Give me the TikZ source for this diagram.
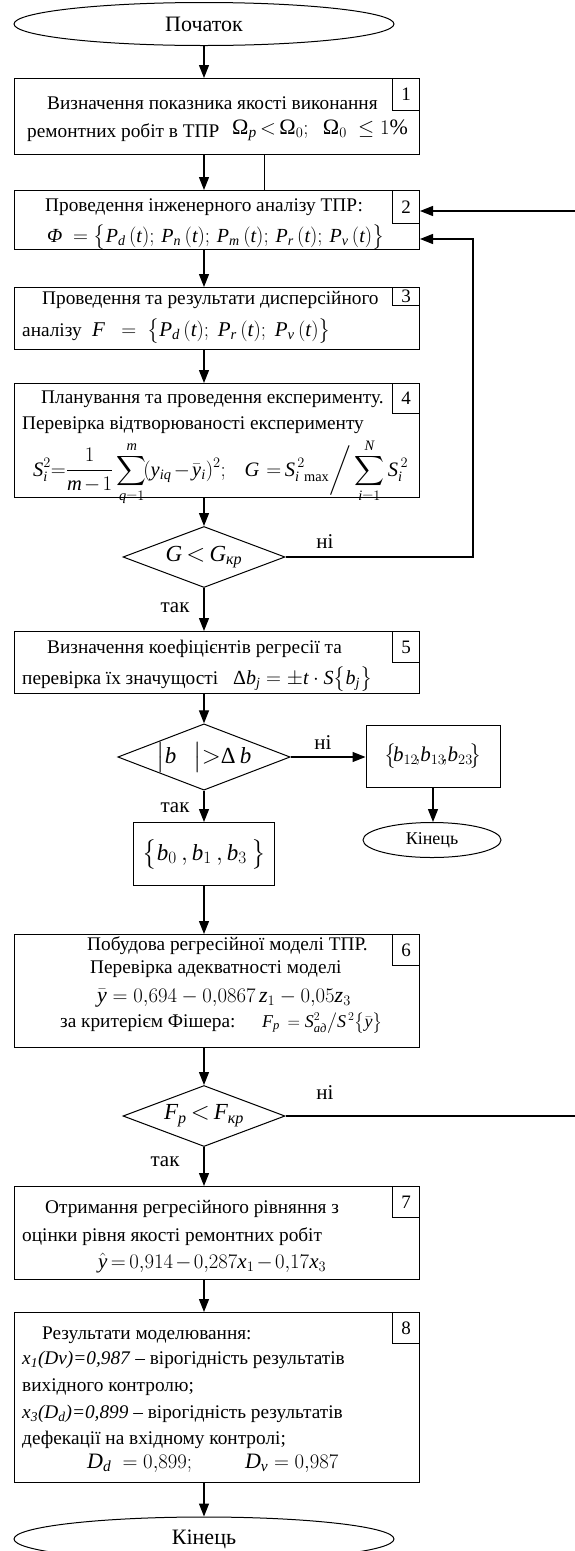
\documentclass[tikz,border=0pt]{standalone}
\usepackage{amsmath}
\usepackage{fontspec}
\setmainfont{Liberation Serif}
\newfontfamily\tfam[NFSSFamily=tms]{Liberation Serif}
\DeclareSymbolFont{tletters}{TU}{tms}{m}{it}
\DeclareSymbolFont{trm}{TU}{tms}{m}{n}
\makeatletter
\def\tsym#1{\DeclareMathSymbol{#1}{\mathalpha}{tletters}{`#1}}
\def\tdig#1{\DeclareMathSymbol{#1}{\mathalpha}{trm}{`#1}}
\@tfor\x:=abcdefghijklmnopqrstuvwxyzABCDEFGHIJKLMNOPQRSTUVWXYZ\do{\expandafter\tsym\x}
\@tfor\x:=0123456789\do{\expandafter\tdig\x}
\makeatother
\usetikzlibrary{arrows.meta,shapes.geometric}
\newcommand\fsz[1]{\fontsize{#1}{#1}\selectfont}
\newcommand\tightmath{\thickmuskip=3mu\medmuskip=2mu}
\tikzset{
  box/.style={draw, line width=1pt, inner sep=0pt, anchor=north west, minimum width=405pt},
  num/.style={draw, line width=1pt, inner sep=0pt, anchor=north east, minimum width=27pt, font=\fsz{19}},
  txt/.style={inner sep=0pt, anchor=base west, font=\fsz{19.3}},
  dia/.style={draw, line width=1pt, shape=diamond, inner sep=0pt, minimum width=162pt, minimum height=61pt, aspect=2.6, font=\fsz{23}},
  ell/.style={draw, line width=1pt, shape=ellipse, inner sep=0pt},
  lbl/.style={inner sep=0pt, font=\fsz{21}},
  arr/.style={line width=1.2pt, -{Triangle[length=13pt,width=10pt]}},
  thinl/.style={line width=0.6pt},
}
\begin{document}
\begin{tikzpicture}[x=1pt,y=-1pt]
\useasboundingbox (0,0) rectangle (574,1551);
% terminals
\node[ell, minimum width=380pt, minimum height=43pt, font=\fsz{22}] (start) at (204,24) {Початок};
\node[ell, minimum width=380pt, minimum height=44pt, font=\fsz{22}] (end) at (204,1539) {Кінець};
\node[ell, minimum width=138pt, minimum height=35pt, font=\fsz{18}] (send) at (432,840) {Кінець};
% boxes
\node[box, minimum height=76pt] (b1) at (14,78) {};
\node[num, minimum height=32pt] (n1) at (b1.north east) {1};
\node[box, minimum height=59pt] (b2) at (14,190) {};
\node[num, minimum height=33pt] (n2) at (b2.north east) {2};
\node[box, minimum height=62pt] (b3) at (14,287) {};
\node[num, minimum height=18pt] (n3) at (b3.north east) {3};
\node[box, minimum height=114pt] (b4) at (14,383) {};
\node[num, minimum height=30pt] (n4) at (b4.north east) {4};
\node[box, minimum height=62pt] (b5) at (14,631) {};
\node[num, minimum height=31pt] (n5) at (b5.north east) {5};
\node[box, minimum height=113pt] (b6) at (14,934) {};
\node[num, minimum height=31pt] (n6) at (b6.north east) {6};
\node[box, minimum height=93pt] (b7) at (14,1186) {};
\node[num, minimum height=31pt] (n7) at (b7.north east) {7};
\node[box, minimum height=170pt] (b8) at (14,1312) {};
\node[num, minimum height=31pt] (n8) at (b8.north east) {8};
\node[draw, line width=1pt, inner sep=0pt, minimum width=141pt, minimum height=63pt, font=\fsz{23}] (bb0) at (204,854) {$\bigl\{b_0\,, b_1\,, b_3\,\bigr\}$};
\node[draw, line width=1pt, inner sep=0pt, minimum width=134pt, minimum height=62pt, font=\fsz{21}] (bb12) at (433,756) {$\bigl\{\!b_{12}\!,\!b_{13}\!,\!b_{23}\!\bigr\}$};
% diamonds
\node[dia] (d1) at (204,557) {$G\,{<}\,G_{\text{\itshape кр}}$};
\node[dia] (d2) at (204,757) {$\bigl|b\ \ \ \bigr|{>}\text{Δ}\,b$};
\node[dia] (d3) at (204,1116) {$F_p\,{<}\,F_{\text{\itshape кр}}$};
% texts box 1
\node[txt] (t1a) at (47,109) {Визначення показника якості виконання};
\node[txt] (t1b) at (27,137) {ремонтних робіт в ТПР};
\node[txt, font=\fsz{22}] (t1c) at (232,134) {$\text{Ω}_{p}\,{<}\,\text{Ω}_0;\ \ \text{Ω}_0\ \le 1\%$};
% box 2
\node[txt] (t2a) at (45,211) {Проведення інженерного аналізу ТПР:};
\node[txt, font=\fsz{20}] (t2b) at (47,242) {$\text{\itshape Φ}\ = \bigl\{P_d\,(t);\, P_n\,(t);\, P_m\,(t);\, P_r\,(t);\, P_v\,(t)\bigr\}$};
% box 3
\node[txt] (t3a) at (42,304) {Проведення та результати дисперсійного};
\node[txt] (t3b) at (22,336) {аналізу};
\node[txt, font=\fsz{21}] (t3c) at (92,336) {$F\ \ =\ \bigl\{P_d\,(t);\ P_r\,(t);\ P_v\,(t)\bigr\}$};
% box 4
\node[txt] (t4a) at (41,403) {Планування та проведення експерименту.};
\node[txt] (t4b) at (22,429) {Перевірка відтворюваності експерименту};
\node[txt, font=\fsz{20.5}] (t4c) at (33,476) {\tightmath$\displaystyle S_i^2 {=} \frac{1}{m-1}\sum_{q=1}^{m}\!(y_{iq}-\bar{y}_i)^2;\ \ \ G\, = S_{i\ \mathrm{max}}^{\,2}\bigg/\sum_{i=1}^{N} S_i^{\,2}$};
% box 5
\node[txt] (t5a) at (47,653) {Визначення коефіцієнтів регресії та};
\node[txt] (t5b) at (22,684) {перевірка їх значущості};
\node[txt, font=\fsz{20}] (t5c) at (233,684) {$\text{Δ}b_j = \pm t\cdot S\bigl\{b_j\bigr\}$};
% box 6
\node[txt] (t6a) at (87,950) {Побудова регресійної моделі ТПР.};
\node[txt] (t6b) at (90,973) {Перевірка адекватності моделі};
\node[txt, font=\fsz{22}] (t6c) at (97,1002) {$\bar{y} = 0{,}694 - 0{,}0867\,z_1 - 0{,}05z_3$};
\node[txt] (t6d) at (60,1027) {за критерієм Фішера:};
\node[txt, font=\fsz{18}] (t6e) at (262,1027) {$F_p\, = S^2_{\text{\itshape ад}}\big/S^{\,2}\bigl\{\bar{y}\bigr\}$};
% box 7
\node[txt] (t7a) at (45,1213) {Отримання регресійного рівняння з};
\node[txt] (t7b) at (22,1241) {оцінки рівня якості ремонтних робіт};
\node[txt, font=\fsz{21}] (t7c) at (98,1268) {\tightmath$\hat{y} = 0{,}914 - 0{,}287x_1 - 0{,}17x_3$};
% box 8
\node[txt] (t8a) at (42,1339) {Результати моделювання:};
\node[txt] (t8b) at (22,1364) {\textit{x\textsubscript{1}(Dv)=0,987} – вірогідність результатів};
\node[txt] (t8c) at (22,1391) {вихідного контролю;};
\node[txt] (t8d) at (22,1418) {\textit{x\textsubscript{3}(D\textsubscript{d})=0,899} – вірогідність результатів};
\node[txt] (t8e) at (22,1444) {дефекації на вхідному контролі;};
\node[txt, font=\fsz{22}] (t8f) at (87,1468) {$D_d\ = 0{,}899;\qquad\ D_v = 0{,}987$};
% labels
\node[lbl] (l1) at (325,542) {ні};
\node[lbl] (l2) at (175,608) {так};
\node[lbl] (l3) at (323,743) {ні};
\node[lbl] (l4) at (175,808) {так};
\node[lbl] (l5) at (325,1093) {ні};
\node[lbl] (l6) at (165,1162) {так};
% coordinates
\coordinate (tl) at (264,0);
\coordinate (fb1) at (473,0);
\coordinate (fb2) at (582,0);
\coordinate (in2a) at ([yshift=-21pt]b2.north east);
\coordinate (in2b) at ([yshift=11pt]b2.south east);
% connectors
\draw[arr] (start.south) -- (start.south |- b1.north);
\draw[arr] (start.south |- b1.south) -- (start.south |- b2.north);
\draw[thinl] (tl |- b1.south) -- (tl |- b2.north);
\draw[arr] (start.south |- b2.south) -- (start.south |- b3.north);
\draw[arr] (start.south |- b3.south) -- (start.south |- b4.north);
\draw[arr] (d1.north |- b4.south) -- (d1.north);
\draw[arr] (d1.south) -- (d1.south |- b5.north);
\draw[arr] (d2.north |- b5.south) -- (d2.north);
\draw[arr] (d2.east) -- (d2.east -| bb12.west);
\draw[arr] (bb12.south) -- (bb12.south |- send.north);
\draw[arr] (d2.south) -- (bb0.north);
\draw[arr] (bb0.south) -- (bb0.south |- b6.north);
\draw[arr] (d3.north |- b6.south) -- (d3.north);
\draw[arr] (d3.south) -- (d3.south |- b7.north);
\draw[arr] (d3.south |- b7.south) -- (d3.south |- b8.north);
\draw[arr] (end.north |- b8.south) -- (end.north);
\draw[arr] (d1.east) -- (d1.east -| fb1) -- (fb1 |- in2b) -- (in2b);
\draw[arr] (d3.east) -- (d3.east -| fb2) -- (fb2 |- in2a) -- (in2a);
\end{tikzpicture}
\end{document}
